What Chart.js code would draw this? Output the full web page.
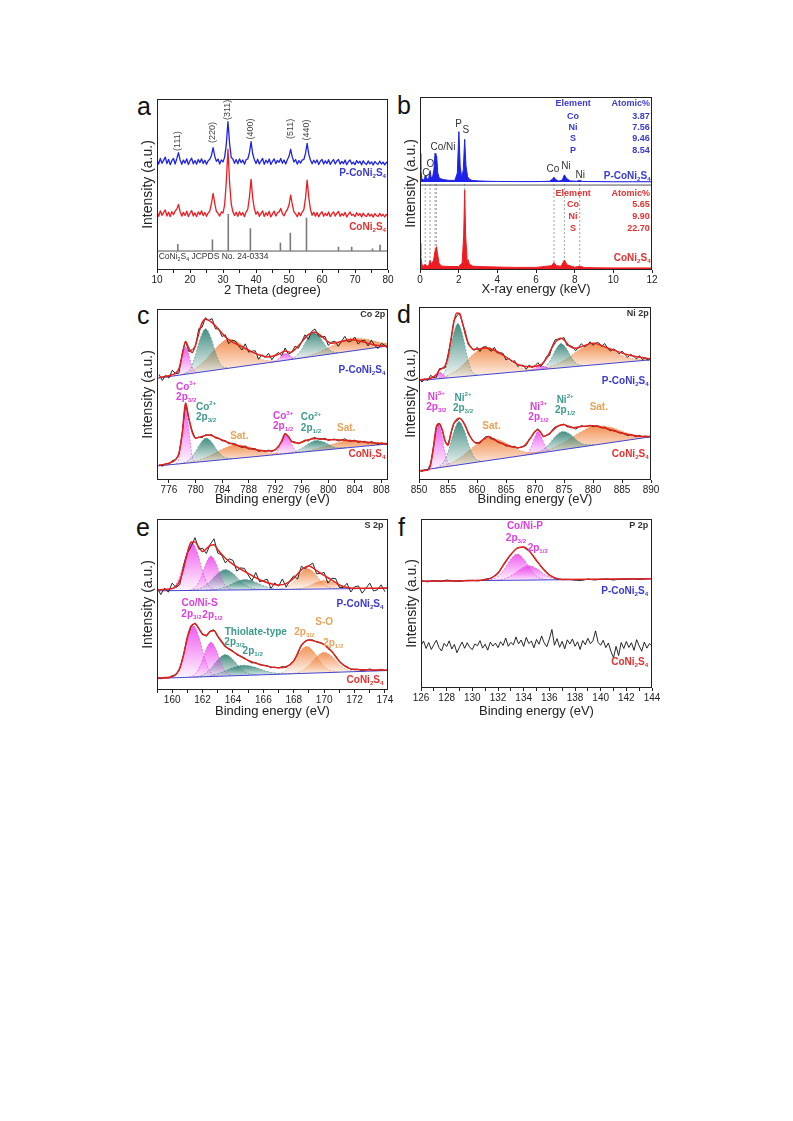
<!DOCTYPE html>
<html>
<head>
<meta charset="utf-8">
<script src="https://cdn.jsdelivr.net/npm/chart.js@4.4.1/dist/chart.umd.min.js"></script>
<style>
html, body { margin: 0; padding: 0; background: #fff; }
body { width: 793px; height: 1121px; position: relative; overflow: hidden; font-family: "Liberation Sans", Arial, sans-serif; }
canvas { position: absolute; }
.tag { position: absolute; font-size: 25px; line-height: 25px; color: #111; }
</style>
</head>
<body>
<div class="tag" style="left:137px;top:94px">a</div>
<div class="tag" style="left:397px;top:93px">b</div>
<div class="tag" style="left:137px;top:303px">c</div>
<div class="tag" style="left:397px;top:302px">d</div>
<div class="tag" style="left:136px;top:515px">e</div>
<div class="tag" style="left:398px;top:515px">f</div>

<canvas id="chartA" style="left:140px;top:95px" width="255" height="203"></canvas>
<canvas id="chartB" style="left:403px;top:93px" width="257" height="204"></canvas>
<canvas id="chartC" style="left:140px;top:305px" width="255" height="202"></canvas>
<canvas id="chartD" style="left:403px;top:303px" width="256" height="204"></canvas>
<canvas id="chartE" style="left:140px;top:515px" width="256" height="204"></canvas>
<canvas id="chartF" style="left:404px;top:515px" width="257" height="204"></canvas>

<script>
// ---------- (a) XRD, 10..80 deg, step 0.5 ----------
const xrdP = [64.8, 61.9, 65.3, 62.4, 64.1, 66.0, 62.2, 64.7, 61.6, 63.9,
  65.2, 62.0, 65.1, 68.6, 64.4, 61.8, 64.3, 62.5, 65.0, 61.7,
  63.8, 65.4, 62.1, 64.0, 61.9, 64.6, 62.8, 65.1, 62.3, 64.2,
  61.8, 63.9, 64.8, 67.0, 71.5, 66.6, 63.5, 64.9, 62.0, 64.3,
  63.2, 66.0, 73.5, 86.7, 73.9, 65.8, 64.9, 62.4, 64.6, 62.1,
  65.0, 62.7, 64.3, 61.9, 64.5, 64.9, 68.5, 75.0, 68.0, 64.6,
  62.3, 64.8, 62.0, 63.7, 65.3, 61.8, 64.2, 62.6, 64.9, 61.7,
  63.5, 65.0, 62.2, 64.1, 63.0, 65.2, 62.4, 64.3, 62.0, 64.5,
  66.5, 70.6, 66.0, 63.2, 64.6, 61.9, 64.0, 62.5, 64.4, 64.6,
  68.2, 74.0, 67.6, 64.3, 62.1, 64.2, 62.6, 64.4, 61.7, 63.6,
  64.7, 62.0, 63.8, 62.3, 64.5, 61.8, 63.4, 64.6, 62.0, 63.7,
  64.6, 61.9, 63.5, 62.2, 64.3, 61.6, 63.3, 64.4, 62.0, 63.1,
  61.6, 64.0, 62.5, 63.6, 61.5, 63.9, 62.4, 61.7, 63.8, 62.1,
  63.2, 61.4, 63.5, 62.3, 61.8, 63.7, 62.0, 63.1, 61.5, 63.0,
  62.2];
const xrdC = [33.9, 31.4, 34.6, 32.0, 33.5, 35.2, 31.6, 33.8, 31.2, 34.1,
  32.3, 34.5, 35.6, 38.3, 34.2, 31.5, 33.7, 31.9, 34.4, 31.3,
  33.2, 34.8, 31.6, 33.5, 31.2, 34.0, 32.3, 34.6, 31.8, 33.6,
  31.4, 33.3, 34.6, 39.0, 44.8, 38.9, 34.2, 33.1, 31.5, 34.0,
  33.3, 38.2, 51.5, 70.6, 51.0, 38.6, 34.0, 31.9, 33.8, 31.4,
  34.1, 32.0, 33.6, 31.2, 33.9, 35.4, 42.5, 53.0, 42.2, 35.8,
  32.6, 34.2, 31.4, 33.0, 34.6, 31.3, 33.5, 31.9, 34.3, 31.0,
  32.8, 34.4, 31.6, 33.4, 34.0, 36.0, 33.0, 31.7, 33.9, 35.4,
  38.0, 43.8, 38.3, 34.0, 32.8, 31.2, 33.6, 31.8, 33.9, 35.3,
  42.0, 52.6, 42.3, 35.6, 32.0, 33.8, 31.5, 33.6, 31.1, 33.0,
  34.1, 31.4, 33.2, 31.8, 33.9, 31.2, 32.8, 34.0, 31.5, 33.2,
  34.2, 31.4, 33.0, 31.8, 33.7, 31.0, 32.7, 33.9, 31.9, 32.6,
  31.2, 33.5, 31.9, 33.1, 31.0, 33.3, 31.8, 31.3, 33.2, 31.5,
  32.7, 30.9, 33.0, 31.8, 31.3, 33.2, 31.5, 32.6, 31.0, 32.5,
  31.8];
const refLevel = 11.1;
const pdfTheta = [16.3, 26.8, 31.6, 38.3, 47.4, 50.4, 55.3, 65.0, 69.0, 75.3, 77.6];
const pdfTop = [15.2, 17.9, 32.7, 24.4, 16.0, 21.8, 30.6, 13.6, 13.6, 12.6, 14.8];
const hklText = ['(111)', '(220)', '(311)', '(400)', '(511)', '(440)'];
const hklTheta = [16.3, 26.8, 31.5, 38.3, 50.4, 55.3];
const hklY = [75.4, 80.4, 93.6, 82.5, 82.5, 81.9];

// ---------- (b) EDS ----------
const edsPE = [0, 0.04, 0.1, 0.18, 0.24, 0.27, 0.31, 0.38, 0.46, 0.52, 0.57, 0.64, 0.72, 0.78, 0.82, 0.86, 0.92, 1.0, 1.2, 1.5,
  1.8, 1.93, 2.01, 2.08, 2.16, 2.24, 2.31, 2.38, 2.46, 2.55, 2.7, 3.0, 3.5, 4, 5, 6, 6.7, 6.85, 6.93, 7.01,
  7.15, 7.35, 7.47, 7.56, 7.75, 8.1, 8.26, 8.4, 9, 10, 11, 12];
const edsPI = [67.4, 58, 52.5, 52, 53, 54.5, 53, 52.5, 53.5, 57.5, 54, 53, 58, 67.4, 64, 66, 56, 53, 52.3, 51.8,
  51.8, 56, 80, 60, 53, 58, 75.5, 60, 54, 52.5, 51.8, 51.5, 51.3, 51.2, 51.1, 51.1, 51.3, 52.5, 53.6, 52.4,
  51.4, 51.8, 55, 53.2, 51.5, 51.3, 51.8, 51.2, 51.1, 51.0, 51.0, 51.0];
const edsCE = [0, 0.04, 0.1, 0.2, 0.27, 0.33, 0.45, 0.52, 0.58, 0.7, 0.78, 0.85, 0.9, 0.98, 1.1, 1.5, 2.0, 2.18, 2.26, 2.31,
  2.36, 2.44, 2.48, 2.55, 2.7, 3, 4, 5, 6, 6.8, 6.93, 7.05, 7.3, 7.47, 7.6, 8.0, 8.26, 8.5, 9, 10, 11, 12];
const edsCI = [15.4, 8, 3, 2.2, 3.5, 2.3, 2.5, 5.5, 3.5, 5.5, 11, 13.5, 10, 4, 2.3, 2.0, 2.0, 4, 20, 46.2,
  20, 5, 6, 3.5, 2.3, 2.0, 1.7, 1.5, 1.5, 2.5, 4.3, 2.5, 2.2, 5.8, 3, 1.6, 2.2, 1.4, 1.3, 1.2, 1.2, 1.2];
const edsBase = 50.9;
const edsSplit = 49.1;
const edsLineE = [0.27, 0.52, 0.78, 0.85, 2.31, 6.93, 7.47, 8.26];
const edsLineTop = [54.5, 57.5, 67.4, 66, 75.5, 53.6, 55, 51.8];
const elemP = ['Co', 'Ni', 'S', 'P'];
const atomP = ['3.87', '7.56', '9.46', '8.54'];
const elemC = ['Co', 'Ni', 'S'];
const atomC = ['5.65', '9.90', '22.70'];

// ---------- (c) Co 2p, grid 774.5..809 step 0.5 ----------
const coRawP = [61.8, 58.2, 61.2, 59.6, 64.2, 62.2, 62.5, 74.2, 81.2, 75.1,
  76.2, 78.2, 88.5, 89.4, 94.9, 93.3, 94.4, 88.4, 88.4, 83.9,
  84.9, 79.7, 81.7, 81.3, 78.4, 76.0, 79.6, 74.8, 75.3, 75.6,
  70.6, 73.3, 71.6, 74.1, 70.3, 73.0, 74.6, 72.8, 77.2, 73.6,
  74.7, 78.3, 77.0, 80.9, 84.9, 82.3, 86.9, 88.3, 84.5, 83.5,
  84.0, 78.7, 80.6, 81.2, 78.2, 81.1, 84.0, 80.7, 81.3, 83.6,
  79.5, 81.4, 81.5, 78.4, 81.7, 78.7, 76.9, 79.8, 79.0, 76.6];
const coRawC = [9.0, 8.1, 9.5, 9.4, 11.4, 11.8, 14.9, 27.4, 45.1, 35.5,
  28.7, 24.2, 25.1, 24.7, 26.5, 26.2, 26.5, 24.5, 24.4, 22.9,
  23.1, 21.1, 21.5, 21.1, 19.9, 19.0, 19.9, 18.2, 18.3, 18.3,
  16.7, 17.4, 16.7, 17.5, 16.5, 17.8, 19.9, 22.4, 27.5, 25.2,
  22.6, 22.2, 21.2, 22.2, 23.4, 22.8, 24.3, 24.8, 23.9, 23.8,
  24.4, 23.1, 23.7, 23.9, 22.8, 23.4, 24.1, 22.8, 22.8, 23.3,
  22.0, 22.5, 22.5, 21.5, 22.5, 21.7, 20.8, 21.6, 21.3, 20.6];
const coFitPX = [774.5, 776, 777, 777.5, 778, 778.5, 779, 779.5, 780, 781, 781.5, 782.5, 783.5, 785, 787, 789, 791, 792.5, 793.5, 794.3, 795.5, 797, 798, 799, 800.5, 802, 803.5, 805, 807, 809];
const coFitPY = [60, 61, 62.5, 65, 73, 81, 77, 74.5, 79, 92, 94, 92, 88, 82, 78, 74, 72, 73.5, 75.5, 74.6, 78.5, 85, 86.5, 84, 80, 81, 82, 81, 79, 78];
const coFitCX = [774.5, 776, 777, 777.5, 778, 778.5, 779, 779.5, 780, 781, 782, 783, 785, 787, 789, 791, 792, 792.5, 793, 793.5, 794, 794.5, 795.5, 797, 798.5, 800, 802, 804, 806, 809];
const coFitCY = [8.5, 9.8, 12, 15.5, 27, 45, 36, 28, 24.5, 25.5, 26.3, 25, 21.8, 19.6, 17.8, 16.9, 17.6, 19.5, 23, 27, 25.5, 22.5, 21.6, 23.6, 24.2, 23.6, 23.4, 22.8, 22, 21];
const coBgX = [774.2, 809];
const coBgPY = [59.5, 78.4];
const coBgCY = [8.2, 21.1];
const coCompP = [
  ['p', [776.8, 777.3, 777.7, 778.1, 778.5, 778.9, 779.3, 779.7, 780.2], [60.9, 62.9, 67.3, 74.1, 77.8, 74.6, 68.2, 64.2, 62.8]],
  ['t', [778.1, 779.2, 779.9, 780.7, 781.5, 782.3, 783.1, 783.8, 784.9], [61.6, 64.9, 71.9, 82.5, 88.5, 83.4, 73.6, 67.4, 65.3]],
  ['o', [777.2, 779.6, 781.4, 783.2, 785, 786.8, 788.6, 790.4, 792.8], [61.1, 64.2, 69.7, 77.7, 82.4, 79.6, 73.6, 70.1, 69.6]],
  ['p', [791.4, 792.1, 792.5, 793.0, 793.5, 794.0, 794.5, 794.9, 795.6], [68.8, 69.6, 70.9, 72.8, 74.0, 73.3, 72.0, 71.1, 71.1]],
  ['t', [793.9, 795.1, 796.0, 796.9, 797.8, 798.7, 799.6, 800.5, 801.7], [70.2, 72.3, 76.5, 82.7, 86.3, 83.7, 78.5, 75.3, 74.4]],
  ['o', [794.4, 797.2, 799.3, 801.4, 803.5, 805.6, 807.7, 809], [70.4, 72.8, 75.9, 80.2, 82.9, 82.4, 80.5, 79.8]]
];
const coCompC = [
  ['p', [777.1, 777.5, 777.8, 778.2, 778.5, 778.8, 779.2, 779.5, 779.9], [9.3, 12.9, 21.7, 35.4, 42.8, 35.6, 22.3, 13.7, 10.3]],
  ['t', [777.7, 778.9, 779.8, 780.7, 781.6, 782.5, 783.4, 784.3, 785.5], [9.5, 11.3, 15.3, 21.1, 24.5, 21.8, 16.6, 13.4, 12.4]],
  ['o', [777.6, 780.2, 782.2, 784.1, 786, 788, 789.9, 791.9, 794.5], [9.5, 11.3, 14.2, 18.1, 20.6, 19.5, 17.0, 15.6, 15.7]],
  ['p', [791.5, 792.2, 792.6, 793.1, 793.6, 794.1, 794.6, 795.0, 795.7], [14.6, 16.1, 19.3, 24.2, 26.9, 24.6, 20.1, 17.1, 16.2]],
  ['t', [793.5, 795.0, 796.0, 797.1, 798.2, 799.3, 800.4, 801.4, 802.9], [15.4, 16.6, 18.5, 21.4, 23.1, 22.2, 20.1, 18.9, 18.9]],
  ['o', [793.9, 796.7, 798.8, 800.9, 803, 805.1, 807.2, 809], [15.5, 17.0, 18.8, 21.2, 22.9, 22.8, 21.9, 21.8]]
];

// ---------- (d) Ni 2p, grid 850..890 step 0.5 ----------
const niRawP = [59.1, 56.6, 58.6, 57.5, 60.5, 59.3, 59.4, 64.3, 64.6, 64.8,
  72.4, 80.5, 92.0, 94.8, 96.6, 90.6, 85.5, 78.1, 76.8, 74.8,
  76.7, 74.3, 76.7, 77.2, 75.6, 74.4, 76.7, 73.4, 73.6, 73.2,
  69.4, 70.3, 68.3, 69.0, 65.7, 66.3, 66.3, 64.0, 66.5, 65.0,
  66.1, 67.8, 65.6, 67.9, 71.4, 71.8, 77.6, 81.2, 80.9, 81.7,
  82.3, 77.9, 77.7, 77.0, 74.7, 76.7, 78.8, 77.0, 77.9, 79.9,
  77.8, 79.3, 79.3, 77.2, 78.9, 76.4, 74.5, 75.8, 74.8, 72.9,
  74.5, 72.5, 70.9, 72.6, 71.6, 69.9, 71.9, 69.7, 70.5, 69.2,
  70.8];
const niRawC = [5.8, 4.9, 5.8, 5.5, 9.4, 19.2, 30.4, 32.9, 29.1, 22.1,
  20.6, 26.8, 33.0, 34.0, 35.9, 34.2, 31.6, 26.6, 24.2, 21.7,
  21.7, 21.2, 23.4, 25.0, 24.9, 23.7, 23.9, 21.9, 21.3, 21.1,
  19.6, 19.9, 19.2, 19.5, 18.3, 19.0, 19.6, 20.1, 23.6, 25.4,
  28.1, 29.6, 27.1, 25.1, 25.9, 26.3, 29.0, 30.7, 31.1, 31.7,
  32.4, 30.7, 30.7, 30.5, 29.4, 30.4, 31.5, 30.8, 31.0, 31.7,
  30.8, 31.3, 31.1, 30.1, 30.6, 29.4, 28.5, 28.8, 28.2, 27.2,
  27.4, 26.4, 25.7, 26.3, 25.6, 25.0, 25.8, 25.0, 25.4, 24.8,
  25.4];
const niFitPX = [850, 852, 853, 853.5, 854.5, 855, 855.5, 856, 856.5, 857, 857.5, 858, 858.5, 859.5, 861.5, 863, 865, 867, 869, 871, 872, 873, 874, 874.5, 875, 876, 877, 880, 883, 886, 890];
const niFitPY = [57.9, 58.8, 61, 63.5, 66, 71, 81, 91, 96.5, 96, 90.7, 84, 79.1, 75.5, 76.3, 75, 71, 66.8, 65.4, 66.6, 70.5, 77, 81.5, 82, 81, 77.3, 76.2, 79.1, 75.7, 72.4, 69.9];
const niFitCX = [850, 851.5, 852, 852.5, 853, 853.5, 854, 854.5, 855, 855.5, 856, 857, 857.5, 858, 859, 860, 861, 862, 863, 865, 867, 868, 869, 870, 870.5, 871, 871.5, 872.5, 874, 875, 876.5, 878, 880, 882, 884, 886, 888, 890];
const niFitCY = [5.4, 5.8, 8.7, 19.3, 30.9, 32.6, 29, 22.5, 20, 27, 32.5, 35.7, 34.2, 31, 24.1, 21.2, 23.2, 25.1, 23.2, 20.2, 18.7, 19.3, 23.2, 28, 29, 27.5, 25.1, 27, 31.3, 31.9, 30.2, 30.9, 31.3, 30, 28, 26.3, 25.3, 25.1];
const niBgX = [850, 890];
const niBgPY = [57.5, 69.5];
const niBgCY = [5.4, 25.0];
const niCompP = [
  ['p', [851.6, 852.1, 852.6, 853.1, 853.5, 854.0, 854.4, 854.9, 855.5], [58.0, 58.5, 59.6, 61.1, 62.1, 61.4, 60.1, 59.4, 59.2]],
  ['t', [853.3, 854.4, 855.1, 855.9, 856.7, 857.5, 858.3, 859.0, 860.1], [58.5, 62.1, 70.5, 83.5, 90.5, 84.0, 71.5, 63.5, 60.5]],
  ['o', [852.4, 855.2, 857.3, 859.4, 861.5, 863.6, 865.7, 867.8, 870.6], [58.2, 60.8, 65.6, 72.8, 77.0, 74.1, 68.1, 64.5, 63.7]],
  ['p', [868.4, 869.2, 869.8, 870.4, 871, 871.6, 872.2, 872.8, 873.6], [63.0, 63.5, 64.1, 65.2, 65.8, 65.6, 64.9, 64.5, 64.6]],
  ['t', [870.6, 871.8, 872.7, 873.6, 874.5, 875.4, 876.3, 877.2, 878.4], [63.7, 65.5, 69.5, 75.5, 78.9, 76.0, 70.6, 67.2, 66.0]],
  ['o', [869.6, 872.8, 875.2, 877.6, 880, 882.4, 884.8, 887.2, 890], [63.4, 65.6, 69.5, 75.2, 78.5, 76.6, 72.3, 70.0, 69.8]]
];
const niCompC = [
  ['p', [851.2, 851.9, 852.4, 852.9, 853.4, 853.9, 854.4, 854.9, 855.6], [6.0, 9.0, 15.8, 26.3, 32.1, 26.8, 16.8, 10.5, 8.1]],
  ['t', [853.0, 854.2, 855.1, 856.0, 856.9, 857.8, 858.7, 859.6, 860.8], [6.9, 10.1, 17.2, 27.8, 33.8, 28.7, 18.9, 12.8, 10.7]],
  ['o', [852.3, 855.3, 857.5, 859.8, 862, 864.3, 866.5, 868.8, 871.8], [6.5, 9.4, 13.9, 20.3, 24.3, 22.5, 18.3, 16.0, 16.1]],
  ['p', [868.2, 868.9, 869.4, 870.0, 870.5, 871.0, 871.6, 872.1, 872.8], [14.3, 16.0, 19.6, 25.0, 28.1, 25.5, 20.7, 17.5, 16.6]],
  ['t', [869.3, 871.0, 872.3, 873.5, 874.8, 876.1, 877.3, 878.6, 880.3], [14.9, 16.8, 20.2, 25.1, 28.1, 26.4, 22.7, 20.5, 20.3]],
  ['o', [868.8, 872.4, 875.1, 877.8, 880.5, 883.2, 885.9, 888.6, 890], [14.6, 17.6, 21.8, 27.6, 31.4, 30.3, 27.1, 25.5, 25.5]]
];

// ---------- (e) S 2p, grid 159..174 step 0.25 ----------
const sRawP = [60.0, 55.8, 59.6, 57.2, 62.5, 60.0, 61.6, 72.8, 80.2, 84.0,
  89.1, 82.4, 82.9, 79.8, 85.2, 88.4, 80.1, 79.0, 74.3, 76.7,
  75.8, 69.5, 71.4, 71.1, 67.3, 63.9, 68.7, 63.3, 64.0, 64.8,
  59.4, 62.6, 60.7, 64.9, 60.2, 63.9, 66.8, 64.9, 72.4, 70.7,
  72.8, 74.2, 68.0, 68.1, 68.7, 62.5, 65.3, 65.2, 60.0, 59.9,
  62.4, 57.3, 60.3, 60.9, 56.6, 59.6, 62.5, 57.9, 58.6, 61.5,
  57.5];
const sRawC = [7.3, 6.6, 7.4, 7.1, 8.4, 8.9, 12.3, 20.8, 31.0, 37.0,
  39.3, 35.8, 32.9, 31.4, 34.5, 35.2, 31.1, 27.9, 25.1, 24.2,
  22.8, 20.5, 19.8, 18.8, 17.1, 15.8, 16.1, 14.7, 14.5, 14.3,
  13.0, 13.4, 12.9, 13.7, 13.2, 14.9, 17.3, 21.0, 26.4, 28.6,
  29.3, 29.3, 28.0, 27.5, 26.8, 24.2, 22.7, 20.0, 16.5, 14.5,
  13.7, 12.0, 12.2, 12.1, 11.2, 11.7, 12.3, 11.4, 11.5, 12.1,
  11.3];
const sFitPX = [159, 160, 160.5, 160.75, 161, 161.25, 161.5, 161.75, 162, 162.5, 162.75, 163, 163.5, 164, 165, 166, 167, 167.5, 168, 168.5, 169, 169.5, 170, 170.5, 171, 171.5, 172, 174.2];
const sFitPY = [58.5, 59.3, 64, 71, 80, 86.5, 86.5, 83.5, 81, 84.5, 85, 82, 77, 73.5, 68.2, 63.6, 61.4, 62.2, 65.4, 70.2, 72.5, 69.8, 67, 64.3, 61.5, 59.9, 59.5, 59.6];
const sFitCX = [159, 160, 160.5, 160.75, 161, 161.25, 161.5, 161.75, 162, 162.25, 162.5, 162.75, 163, 163.5, 164, 165, 166, 167, 167.5, 168, 168.5, 169, 169.5, 170, 170.5, 171, 171.5, 172, 174.2];
const sFitCY = [7, 7.8, 12.7, 20.5, 31, 37.5, 38.8, 36, 32.5, 32, 34.3, 34.6, 31.5, 25.6, 22.4, 17.3, 14.4, 13, 13.6, 17, 26, 29.2, 28.3, 26.5, 22.5, 16.8, 13.2, 12, 11.7];
const sBgX = [159, 174.2];
const sBgPY = [58.0, 59.5];
const sBgCY = [6.8, 11.4];
const sCompP = [
  ['p', [159.74, 160.22, 160.58, 160.94, 161.3, 161.66, 162.02, 162.38, 162.86], [58.1, 61.1, 68.6, 80.0, 86.2, 80.1, 68.7, 61.3, 58.4]],
  ['p', [161.12, 161.56, 161.89, 162.22, 162.55, 162.88, 163.21, 163.54, 163.98], [58.2, 60.4, 65.7, 73.9, 78.4, 74.0, 65.8, 60.6, 58.5]],
  ['t', [161.16, 161.88, 162.42, 162.96, 163.5, 164.04, 164.58, 165.12, 165.84], [58.2, 59.6, 62.8, 67.8, 70.5, 67.9, 63.0, 59.9, 58.7]],
  ['t', [162.2, 163.0, 163.6, 164.2, 164.8, 165.4, 166.0, 166.6, 167.4], [58.3, 59.0, 60.7, 63.2, 64.6, 63.3, 60.9, 59.4, 58.8]],
  ['o', [166.95, 167.55, 168.0, 168.45, 168.9, 169.35, 169.8, 170.25, 170.85], [58.8, 60.2, 63.3, 68.3, 71.0, 68.4, 63.5, 60.4, 59.2]],
  ['o', [167.92, 168.56, 169.04, 169.52, 170.0, 170.48, 170.96, 171.44, 172.08], [58.9, 59.5, 60.9, 63.0, 64.1, 63.1, 61.1, 59.7, 59.3]]
];
const sCompC = [
  ['p', [159.84, 160.32, 160.68, 161.04, 161.4, 161.76, 162.12, 162.48, 162.96], [7.1, 10.4, 18.4, 30.8, 37.5, 31.0, 18.8, 11.0, 8.0]],
  ['p', [161.12, 161.56, 161.89, 162.22, 162.55, 162.88, 163.21, 163.54, 163.98], [7.4, 9.7, 15.1, 23.4, 27.9, 23.6, 15.5, 10.3, 8.3]],
  ['t', [161.42, 162.06, 162.54, 163.02, 163.5, 163.98, 164.46, 164.94, 165.58], [7.5, 9.0, 12.5, 17.8, 20.7, 18.0, 13.0, 9.9, 8.8]],
  ['t', [161.58, 162.54, 163.26, 163.98, 164.7, 165.42, 166.14, 166.86, 167.82], [7.6, 8.5, 10.3, 13.0, 14.5, 13.4, 11.1, 9.8, 9.5]],
  ['o', [166.77, 167.41, 167.89, 168.37, 168.85, 169.33, 169.81, 170.29, 170.93], [9.1, 11.0, 15.3, 21.9, 25.6, 22.2, 15.8, 11.9, 10.4]],
  ['o', [167.79, 168.47, 168.98, 169.49, 170.0, 170.51, 171.02, 171.53, 172.21], [9.4, 10.9, 14.2, 19.3, 22.1, 19.6, 14.8, 11.8, 10.8]]
];

// ---------- (f) P 2p ----------
// P-CoNi2S4: 126..144 step 0.5 ; CoNi2S4: 126..144 step 0.2
const pRawP = [63.5, 62.8, 63.5, 63.0, 63.9, 63.3, 63.1, 63.7, 63.7, 63.4,
  64.4, 65.0, 68.2, 73.4, 79.1, 83.0, 83.2, 80.6, 75.1, 70.8,
  67.0, 64.6, 64.3, 64.3, 63.8, 63.6, 64.5, 63.9, 64.3, 64.5,
  63.9, 64.5, 64.3, 64.8, 64.2, 64.6, 64.8];
const pRawC = [25.1, 27.8, 23.4, 26.9, 22.8, 25.6, 28.3, 24.0, 21.9, 26.4,
  24.6, 27.9, 23.1, 25.8, 20.9, 24.2, 27.2, 23.5, 26.8, 24.0,
  22.7, 26.1, 25.0, 28.0, 23.6, 25.9, 22.4, 27.1, 24.8, 26.6,
  23.9, 27.4, 25.2, 29.6, 24.7, 27.0, 25.5, 30.2, 26.1, 28.4,
  24.6, 29.9, 26.3, 27.8, 23.8, 28.7, 25.9, 30.8, 26.7, 24.4,
  28.9, 34.6, 25.3, 29.2, 24.1, 27.6, 23.2, 28.5, 26.0, 29.0,
  24.7, 27.3, 22.8, 28.1, 25.6, 29.4, 26.2, 27.9, 33.8, 27.0,
  25.3, 28.2, 23.9, 26.6, 21.7, 17.9, 24.6, 19.2, 26.9, 23.4,
  27.5, 24.0, 26.8, 22.3, 28.6, 24.9, 21.8, 27.2, 23.6, 26.3,
  24.8];
const pFitPX = [126, 130, 131, 131.5, 132, 132.5, 133, 133.5, 134, 134.5, 135, 135.5, 136, 136.5, 137, 144];
const pFitPY = [63.2, 63.6, 64, 65.2, 67.9, 73.8, 79, 82.8, 83.5, 80.5, 75.5, 70.5, 66.8, 65, 64.2, 64.6];
const pBgX = [126, 144];
const pBgPY = [63.2, 64.6];
const pCompP = [
  ['p', [131.16, 131.88, 132.42, 132.96, 133.5, 134.04, 134.58, 135.12, 135.84], [63.6, 65.3, 69.4, 75.8, 79.3, 75.9, 69.6, 65.5, 64.0]],
  ['p', [131.67, 132.51, 133.14, 133.77, 134.4, 135.03, 135.66, 136.29, 137.13], [63.6, 64.6, 66.9, 70.4, 72.4, 70.5, 67.1, 64.9, 64.1]]
];

// ---------- styling ----------
Chart.defaults.font.family = '"Liberation Sans", Arial, sans-serif';
Chart.defaults.color = '#222';

const BLUE = '#1e22e8', RED = '#ee1c22', FIT = '#e3201c', BGL = '#4343d2', INK = '#111';
const SBLUE = '#3a3ad0', SRED = '#e23232', GREY = '#333';
const TXT = { p: '#dc3edc', t: '#3d9a8c', o: '#e9a25a' };
const FILLC = { p: '#ee44ee', t: '#2a7d70', o: '#f0843e' };
const EDGEC = { p: '#d040d0', t: '#3f8f82', o: '#e09060' };
const ORD = { p: 3, t: 4, o: 5 };

const grid = (x0, dx, n) => Array.from({ length: n }, (_, i) => +(x0 + i * dx).toFixed(2));
const pts = (xs, ys) => xs.map((x, i) => ({ x, y: ys[i] }));
const L = (t, x, y, c, al, s, b, rot) => ({ t, x, y, c: c || GREY, al: al || 'center', s: s || 10, b: b !== false, rot: rot || 0 });

function fade(hex) {
  return ctx => {
    const chart = ctx.chart, ds = ctx.dataset;
    if (!chart.chartArea || !ds || !chart.scales.y) return hex + '88';
    const ys = ds.data.map(p => p.y);
    const yS = chart.scales.y;
    const top = yS.getPixelForValue(Math.max(...ys));
    const bot = yS.getPixelForValue(Math.min(...ys));
    if (!(bot > top)) return hex + '88';
    const g = chart.ctx.createLinearGradient(0, top, 0, bot);
    g.addColorStop(0, hex + 'e0');
    g.addColorStop(1, hex + '0c');
    return g;
  };
}

// text with ^{sup} and _{sub}
function drawRich(ctx, text, px, py, o) {
  const size = o.s;
  const parts = [];
  const re = /([_^])\{([^}]*)\}|([_^])(.)/g;
  let last = 0, m;
  while ((m = re.exec(text))) {
    if (m.index > last) parts.push({ s: text.slice(last, m.index), k: 0 });
    const kind = m[1] || m[3];
    parts.push({ s: m[2] !== undefined ? m[2] : m[4], k: kind === '^' ? 1 : -1 });
    last = re.lastIndex;
  }
  if (last < text.length) parts.push({ s: text.slice(last), k: 0 });
  const font = k => (o.b ? 'bold ' : '') + (k ? size * 0.62 : size) + 'px "Liberation Sans", Arial, sans-serif';
  let w = 0;
  parts.forEach(p => { ctx.font = font(p.k); p.w = ctx.measureText(p.s).width; w += p.w; });
  ctx.save();
  ctx.translate(px, py);
  if (o.rot) ctx.rotate(o.rot);
  ctx.fillStyle = o.c;
  ctx.textBaseline = 'middle';
  ctx.textAlign = 'left';
  let cx = o.al === 'right' ? -w : (o.al === 'left' ? 0 : -w / 2);
  parts.forEach(p => {
    ctx.font = font(p.k);
    ctx.fillText(p.s, cx, p.k === 1 ? -size * 0.36 : (p.k === -1 ? size * 0.3 : 0));
    cx += p.w;
  });
  ctx.restore();
}

const annot = {
  id: 'annot',
  afterDatasetsDraw(chart, args, opts) {
    const { ctx, chartArea: a, scales: { x, y } } = chart;
    ctx.save();
    ctx.strokeStyle = '#222';
    ctx.lineWidth = 1;
    ctx.strokeRect(Math.round(a.left) + 0.5, Math.round(a.top) + 0.5, Math.round(a.width) - 1, Math.round(a.height) - 1);
    (opts.items || []).forEach(it => drawRich(ctx, it.t, x.getPixelForValue(it.x), y.getPixelForValue(it.y), it));
    ctx.restore();
  }
};

function mk(id, g, datasets, ax, items) {
  return new Chart(document.getElementById(id), {
    type: 'line',
    data: { datasets },
    plugins: [annot],
    options: {
      responsive: false,
      animation: false,
      events: [],
      layout: { padding: { top: g.pt, right: g.pr, left: 0, bottom: 0 } },
      elements: { point: { radius: 0 }, line: { tension: 0, borderJoinStyle: 'round' } },
      plugins: { legend: { display: false }, tooltip: { enabled: false }, annot: { items } },
      scales: {
        x: {
          type: 'linear', min: ax.min, max: ax.max,
          border: { display: false },
          grid: { drawOnChartArea: false, tickLength: 3, color: '#222', lineWidth: 1 },
          ticks: { stepSize: ax.step, includeBounds: false, autoSkip: false, maxRotation: 0, padding: 1,
                   color: '#222', font: { size: 10 }, callback: ax.label || (v => v) },
          title: { display: true, text: ax.title, color: '#222', font: { size: 13 }, padding: 0 },
          afterFit: s => { s.height = g.hx; s.paddingLeft = 0; s.paddingRight = 0; }
        },
        y: {
          min: 0, max: 100,
          border: { display: false },
          grid: { display: false },
          ticks: { display: false },
          title: { display: true, text: 'Intensity (a.u.)', color: '#222', font: { size: 14 }, padding: 0 },
          afterFit: s => { s.width = g.wy; }
        }
      }
    }
  });
}

function xpsSets(traces) {
  const sets = [];
  traces.forEach(tr => {
    let bi = -1;
    if (tr.bg) {
      bi = sets.length;
      sets.push({ data: pts(tr.bg[0], tr.bg[1]), borderColor: BGL, borderWidth: 1, order: 2 });
    }
    (tr.comps || []).forEach(([k, xs, ys]) => sets.push({
      data: pts(xs, ys), borderColor: EDGEC[k], borderWidth: 0.6, borderDash: [2, 1.5],
      backgroundColor: fade(FILLC[k]), fill: { target: bi },
      cubicInterpolationMode: 'monotone', order: ORD[k]
    }));
    sets.push({ data: pts(tr.raw[0], tr.raw[1]), borderColor: INK, borderWidth: 0.9, order: 1 });
    if (tr.fit) sets.push({ data: pts(tr.fit[0], tr.fit[1]), borderColor: FIT, borderWidth: 1.5, cubicInterpolationMode: 'monotone', order: 0 });
  });
  return sets;
}

// ---------- (a) ----------
const theta = grid(10, 0.5, xrdP.length);
const sticks = [];
pdfTheta.forEach((t, i) => sticks.push({ x: t, y: refLevel }, { x: t, y: pdfTop[i] }, { x: t, y: null }));
mk('chartA', { pt: 4, pr: 7, wy: 17, hx: 28 }, [
  { data: pts(theta, xrdP), borderColor: BLUE, borderWidth: 1.3, order: 0 },
  { data: pts(theta, xrdC), borderColor: RED, borderWidth: 1.3, order: 1 },
  { data: sticks, borderColor: '#7a7a7a', borderWidth: 1.6, order: 2 },
  { data: [{ x: 10, y: refLevel }, { x: 80, y: refLevel }], borderColor: '#555', borderWidth: 1, order: 3 }
], { min: 10, max: 80, step: 5, title: '2 Theta (degree)', label: v => (v % 10 === 0 ? v : '') }, [
  ...hklText.map((t, i) => L(t, hklTheta[i], hklY[i], '#444', 'center', 9, false, -Math.PI / 2)),
  L('P-CoNi_2S_4', 79.4, 56.7, SBLUE, 'right'),
  L('CoNi_2S_4', 79.4, 25.1, SRED, 'right'),
  L('CoNi_2S_4 JCPDS No. 24-0334', 10.5, 7.9, '#333', 'left', 8.5, false)
]);

// ---------- (b) ----------
const edsMarks = [];
edsLineE.forEach((e, i) => edsMarks.push({ x: e, y: 0 }, { x: e, y: edsLineTop[i] }, { x: e, y: null }));
const rowsP = [89.0, 82.4, 75.9, 69.3];
const rowsC = [37.6, 30.8, 24.1];
mk('chartB', { pt: 4, pr: 8, wy: 17, hx: 27 }, [
  { data: pts(edsPE, edsPI), borderColor: BLUE, borderWidth: 1, backgroundColor: BLUE, fill: { value: edsBase }, order: 0 },
  { data: pts(edsCE, edsCI), borderColor: RED, borderWidth: 1, backgroundColor: RED, fill: 'origin', order: 0 },
  { data: [{ x: 0, y: edsSplit }, { x: 12, y: edsSplit }], borderColor: '#555', borderWidth: 1, order: 1 },
  { data: edsMarks, borderColor: '#999', borderWidth: 0.9, borderDash: [2, 2], order: 2 }
], { min: 0, max: 12, step: 2, title: 'X-ray energy (keV)' }, [
  L('C', 0.3, 55.8, GREY, 'center', 10, false),
  L('O', 0.54, 61.2, GREY, 'center', 10, false),
  L('Co/Ni', 1.19, 70.9, GREY, 'center', 10, false),
  L('P', 1.99, 84.2, GREY, 'center', 10, false),
  L('S', 2.37, 80.9, GREY, 'center', 10, false),
  L('Co', 6.87, 58.4, GREY, 'center', 10, false),
  L('Ni', 7.55, 60.1, GREY, 'center', 10, false),
  L('Ni', 8.29, 54.9, GREY, 'center', 10, false),
  L('Element', 7.92, 96.0, SBLUE, 'center', 9),
  L('Atomic%', 10.9, 96.0, SBLUE, 'center', 9),
  ...elemP.map((e, i) => L(e, 7.92, rowsP[i], SBLUE, 'center', 9)),
  ...atomP.map((v, i) => L(v, 11.88, rowsP[i], SBLUE, 'right', 9)),
  L('P-CoNi_2S_4', 11.93, 54.3, SBLUE, 'right'),
  L('Element', 7.92, 44.3, SRED, 'center', 9),
  L('Atomic%', 10.9, 44.3, SRED, 'center', 9),
  ...elemC.map((e, i) => L(e, 7.92, rowsC[i], SRED, 'center', 9)),
  ...atomC.map((v, i) => L(v, 11.88, rowsC[i], SRED, 'right', 9)),
  L('CoNi_2S_4', 11.93, 6.9, SRED, 'right')
]);

// ---------- (c) ----------
const coE = grid(774.5, 0.5, coRawP.length);
mk('chartC', { pt: 4, pr: 7, wy: 17, hx: 27 }, xpsSets([
  { raw: [coE, coRawP], fit: [coFitPX, coFitPY], bg: [coBgX, coBgPY], comps: coCompP },
  { raw: [coE, coRawC], fit: [coFitCX, coFitCY], bg: [coBgX, coBgCY], comps: coCompC }
]), { min: 774.2, max: 809, step: 4, title: 'Binding energy (eV)' }, [
  L('Co 2p', 808.6, 97, GREY, 'right', 9),
  L('P-CoNi_2S_4', 808.6, 64.3, SBLUE, 'right'),
  L('CoNi_2S_4', 808.6, 15.2, SRED, 'right'),
  L('Co^{3+}', 778.6, 54.2, TXT.p), L('2p_{3/2}', 778.6, 48.3, TXT.p),
  L('Co^{2+}', 781.6, 42.5, TXT.t), L('2p_{3/2}', 781.6, 36.7, TXT.t),
  L('Sat.', 786.6, 25.3, TXT.o),
  L('Co^{3+}', 793.2, 37, TXT.p), L('2p_{1/2}', 793.2, 31.3, TXT.p),
  L('Co^{2+}', 797.4, 36.5, TXT.t), L('2p_{1/2}', 797.4, 30.3, TXT.t),
  L('Sat.', 802.7, 30, TXT.o)
]);

// ---------- (d) ----------
const niE = grid(850, 0.5, niRawP.length);
mk('chartD', { pt: 4, pr: 8, wy: 16, hx: 27 }, xpsSets([
  { raw: [niE, niRawP], fit: [niFitPX, niFitPY], bg: [niBgX, niBgPY], comps: niCompP },
  { raw: [niE, niRawC], fit: [niFitCX, niFitCY], bg: [niBgX, niBgCY], comps: niCompC }
]), { min: 850, max: 890, step: 5, title: 'Binding energy (eV)' }, [
  L('Ni 2p', 889.6, 96.1, GREY, 'right', 9),
  L('P-CoNi_2S_4', 889.6, 56.9, SBLUE, 'right'),
  L('CoNi_2S_4', 889.6, 15.1, SRED, 'right'),
  L('Ni^{3+}', 853.0, 47.9, TXT.p), L('2p_{3/2}', 853.0, 41.9, TXT.p),
  L('Ni^{2+}', 857.6, 47.3, TXT.t), L('2p_{3/2}', 857.6, 41.3, TXT.t),
  L('Sat.', 862.5, 30.9, TXT.o),
  L('Ni^{3+}', 870.6, 42.1, TXT.p), L('2p_{1/2}', 870.6, 36.1, TXT.p),
  L('Ni^{2+}', 875.2, 46.3, TXT.t), L('2p_{1/2}', 875.2, 40.3, TXT.t),
  L('Sat.', 881.0, 42.1, TXT.o)
]);

// ---------- (e) ----------
const sE = grid(159, 0.25, sRawP.length);
mk('chartE', { pt: 4, pr: 8, wy: 17, hx: 29 }, xpsSets([
  { raw: [sE, sRawP], fit: [sFitPX, sFitPY], bg: [sBgX, sBgPY], comps: sCompP },
  { raw: [sE, sRawC], fit: [sFitCX, sFitCY], bg: [sBgX, sBgCY], comps: sCompC }
]), { min: 159, max: 174.2, step: 1, title: 'Binding energy (eV)', label: v => (v % 2 === 0 ? v : '') }, [
  L('S 2p', 173.9, 96.1, GREY, 'right', 9),
  L('P-CoNi_2S_4', 173.9, 50.3, SBLUE, 'right'),
  L('CoNi_2S_4', 173.9, 5.8, SRED, 'right'),
  L('Co/Ni-S', 161.8, 50.7, TXT.p),
  L('2p_{3/2}', 161.27, 44.4, TXT.p), L('2p_{1/2}', 162.65, 43.9, TXT.p),
  L('Thiolate-type', 165.5, 33.5, TXT.t),
  L('2p_{3/2}', 164.1, 27.7, TXT.t), L('2p_{1/2}', 165.3, 22.8, TXT.t),
  L('S-O', 170.0, 39.6, TXT.o),
  L('2p_{3/2}', 168.7, 33.5, TXT.o), L('2p_{1/2}', 170.6, 27.3, TXT.o)
]);

// ---------- (f) ----------
mk('chartF', { pt: 4, pr: 9, wy: 17, hx: 31 }, xpsSets([
  { raw: [grid(126, 0.5, pRawP.length), pRawP], fit: [pFitPX, pFitPY], bg: [pBgX, pBgPY], comps: pCompP },
  { raw: [grid(126, 0.2, pRawC.length), pRawC] }
]), { min: 126, max: 144, step: 1, title: 'Binding energy (eV)', label: v => (v % 2 === 0 ? v : '') }, [
  L('P 2p', 143.7, 96, GREY, 'right', 9),
  L('P-CoNi_2S_4', 143.7, 57.5, SBLUE, 'right'),
  L('CoNi_2S_4', 143.7, 15.3, SRED, 'right'),
  L('Co/Ni-P', 134.1, 96, TXT.p),
  L('2p_{3/2}', 133.4, 88.6, TXT.p), L('2p_{1/2}', 135.1, 82.7, TXT.p)
]);
</script>
</body>
</html>
